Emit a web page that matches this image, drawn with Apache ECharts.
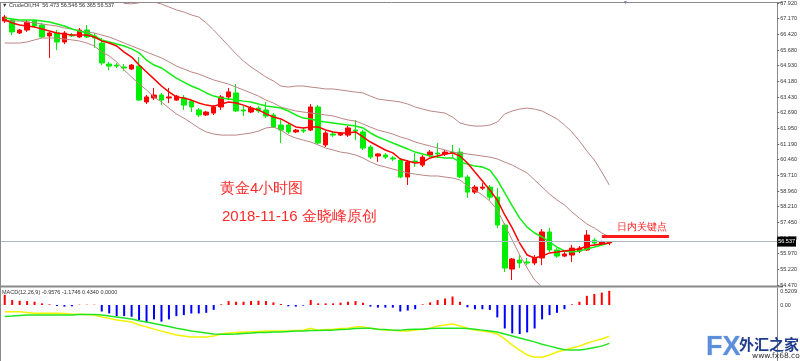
<!DOCTYPE html>
<html><head><meta charset="utf-8">
<script src="https://cdn.jsdelivr.net/npm/echarts@6/dist/echarts.min.js"></script>
<style>html,body{margin:0;padding:0;background:#fff}#c{width:800px;height:361px}</style>
</head><body><div id="c"></div>
<script>
// ---- data ----
const symbolName = 'CrudeOil,H4';
const slotCount = 104; // bar slots across the window (MT4 right shift leaves empty slots)
const categories = Array.from({length: slotCount}, (_, i) => 'B' + (i + 1));

const priceTicks = ['54.470','55.220','55.970','56.720','57.450','58.210','58.960','59.710','60.460','61.190','61.950','62.690','63.430','64.180','64.930','65.680','66.420','67.170','67.920'];
const priceMin = 54.47, priceMax = 67.92;
const macdMin = -1.716, macdMax = 0.5209;
const keyLevel = 56.78; // 日内关键点

// [open, close, low, high]
const candles = [
[67.06,67.25,66.97,67.35],[67.11,66.54,66.39,67.20],[66.49,66.63,66.44,66.68],[66.63,67.01,66.54,67.11],
[67.06,66.82,66.73,67.11],[66.87,66.30,66.25,66.97],[66.35,66.49,65.30,66.54],[66.49,66.06,65.68,66.63],
[66.06,66.49,65.96,66.58],[66.39,66.35,66.30,66.49],[66.30,66.63,66.25,66.73],[66.63,66.30,66.25,66.87],
[66.35,66.25,65.77,66.49],[66.01,65.06,64.96,66.25],[65.01,64.91,64.72,65.11],[64.96,64.91,64.82,65.06],
[64.87,64.82,64.68,65.01],[64.77,64.96,64.72,65.01],[64.91,63.29,63.25,65.34],[63.20,63.44,63.10,63.53],
[63.39,63.53,63.29,63.87],[63.53,63.29,63.05,63.63],[63.39,63.44,63.15,63.87],[63.29,63.48,63.25,63.53],
[63.39,63.05,62.82,63.53],[63.25,62.96,62.72,63.29],[62.82,62.58,62.48,62.91],[62.58,62.72,62.53,62.77],
[62.67,62.96,62.58,63.05],[62.96,63.44,62.82,63.53],[63.44,63.68,63.29,63.87],[63.63,62.77,62.72,64.06],
[62.82,62.77,62.53,63.01],[62.72,62.91,62.67,63.01],[62.91,62.77,62.67,63.01],[62.82,62.53,62.43,63.20],
[62.58,62.00,61.96,62.67],[62.10,61.86,61.24,62.34],[62.10,61.77,61.67,62.20],[61.77,61.86,61.72,61.91],
[61.86,61.81,61.72,61.96],[61.86,62.96,61.81,63.10],[62.96,61.24,61.19,63.05],[61.15,61.72,61.05,61.81],
[61.67,61.62,61.53,61.77],[61.62,61.72,61.58,61.77],[61.62,61.96,61.53,62.05],[61.86,61.81,61.38,62.34],
[61.77,61.00,60.91,61.86],[61.05,60.57,60.48,61.15],[60.62,60.72,60.34,60.76],[60.67,60.57,60.48,60.76],
[60.53,60.48,60.38,60.62],[60.43,59.62,59.57,60.53],[59.62,60.34,59.24,60.43],[60.38,60.34,60.10,60.76],
[60.19,60.57,60.10,60.67],[60.67,60.81,60.57,60.91],[60.76,60.72,60.53,61.24],[60.72,60.81,60.62,60.91],
[60.81,60.76,60.53,61.15],[60.81,59.62,59.57,61.00],[59.62,58.90,58.62,59.71],[58.90,59.14,58.81,59.24],
[59.09,59.14,59.00,59.33],[59.14,58.66,58.52,59.24],[58.66,57.33,57.19,59.09],[57.33,55.28,55.09,57.43],
[55.23,55.71,54.71,55.76],[55.66,55.52,55.28,55.90],[55.57,55.52,55.42,55.76],[55.52,55.76,55.42,55.90],
[55.76,57.00,55.42,57.14],[57.00,56.14,56.04,57.19],[56.14,55.85,55.76,56.23],[55.85,55.95,55.80,56.04],
[55.90,56.23,55.57,56.38],[56.09,56.23,55.99,56.33],[56.14,56.85,56.09,57.09],[56.61,56.47,56.38,56.71],
[56.42,56.52,56.35,56.58],[56.473,56.537,56.365,56.546]
];

const maFast = [67.11,66.97,66.87,66.82,66.77,66.68,66.58,66.49,66.44,66.39,
66.39,66.39,66.30,66.11,66.01,65.87,65.58,65.34,64.96,64.63,
64.30,63.96,63.68,63.44,63.39,63.29,63.15,63.05,63.00,63.10,
63.20,63.15,63.05,62.91,62.82,62.63,62.48,62.39,62.20,62.01,
61.96,62.01,62.01,61.86,61.77,61.72,61.72,61.77,61.53,61.29,
61.10,60.91,60.77,60.48,60.38,60.29,60.33,60.53,60.62,60.72,
60.77,60.62,60.29,59.86,59.43,59.00,58.52,57.81,57.19,56.47,
55.90,55.76,55.85,56.00,56.04,56.09,56.14,56.19,56.33,56.38,
56.42,56.47];

const maSlow = [67.20,67.16,67.11,67.11,67.11,67.06,67.01,66.92,66.82,66.68,
66.58,66.49,66.35,66.16,66.06,65.96,65.87,65.73,65.54,65.20,
64.96,64.82,64.58,64.34,64.15,63.96,63.82,63.63,63.48,63.39,
63.34,63.29,63.24,63.20,63.10,63.01,62.96,62.91,62.77,62.58,
62.43,62.39,62.29,62.24,62.20,62.15,62.10,62.05,61.96,61.72,
61.53,61.39,61.24,61.10,60.96,60.81,60.72,60.62,60.57,60.53,
60.53,60.34,60.24,60.14,60.10,59.95,59.48,58.86,58.24,57.66,
57.23,56.95,56.76,56.52,56.28,56.09,56.04,56.09,56.19,56.28,
56.38,56.47];

const bandUpper = [68.15,68.15,68.15,68.15,68.15,68.15,68.15,68.15,68.15,68.15,
68.15,68.15,68.15,68.15,68.15,68.15,67.90,67.88,67.93,68.00,
67.97,67.87,67.73,67.59,67.49,67.35,67.25,66.97,66.63,66.25,
65.87,65.49,65.15,64.87,64.63,64.39,64.20,63.96,63.91,63.96,
63.96,63.91,63.87,63.82,63.82,63.77,63.72,63.67,63.63,63.48,
63.34,63.29,63.25,63.20,63.10,62.96,62.86,62.77,62.72,62.67,
62.48,62.20,62.10,62.05,62.05,62.10,62.24,62.63,62.77,62.86,
62.91,62.86,62.77,62.58,62.39,62.10,61.77,61.34,60.86,60.43,
59.86,59.24];

const bandMiddle = [67.11,67.06,67.06,67.01,66.97,66.92,66.87,66.82,66.73,66.68,
66.58,66.54,66.49,66.39,66.30,66.16,66.01,65.87,65.73,65.58,
65.44,65.30,65.11,64.91,64.77,64.63,64.53,64.39,64.25,64.15,
64.05,63.91,63.77,63.63,63.48,63.29,63.15,62.96,62.86,62.77,
62.72,62.67,62.63,62.58,62.53,62.43,62.34,62.29,62.15,62.00,
61.86,61.77,61.67,61.53,61.43,61.29,61.19,61.10,61.00,60.91,
60.81,60.76,60.72,60.67,60.62,60.57,60.48,60.33,60.19,60.00,
59.81,59.48,59.14,58.81,58.52,58.29,57.95,57.66,57.38,57.19,
56.95,56.76];

const bandLower = [66.01,66.01,66.01,66.06,66.16,66.25,66.25,66.25,66.20,66.16,
66.11,66.01,65.87,65.58,65.39,65.11,64.72,64.39,64.06,63.77,
63.44,63.20,62.91,62.63,62.43,62.20,61.96,61.77,61.67,61.62,
61.62,61.62,61.67,61.72,61.81,61.96,62.00,61.86,61.62,61.48,
61.38,61.29,61.15,61.00,60.91,60.81,60.76,60.67,60.53,60.34,
60.19,60.10,60.00,59.91,59.81,59.76,59.71,59.67,59.67,59.62,
59.57,59.48,59.19,59.00,58.76,58.47,58.05,57.33,56.61,55.90,
55.28,54.71,54.37,53.99,53.75,53.55,53.40,53.30,53.22,53.18,
53.15,53.15];

const macdHist = [0.31,0.15,0.13,0.12,0.10,0.05,0.02,-0.03,-0.05,-0.04,
0.01,0.01,0.01,-0.20,-0.26,-0.34,-0.34,-0.36,-0.46,-0.54,
-0.44,-0.51,-0.44,-0.34,-0.31,-0.26,-0.26,-0.24,-0.15,0.02,
0.12,0.10,0.10,0.12,0.13,0.12,0.08,0.03,-0.04,-0.05,
-0.02,0.15,0.05,0.05,0.05,0.07,0.10,0.12,0.07,-0.05,
-0.08,-0.08,-0.08,-0.20,-0.17,-0.13,0.02,0.08,0.15,0.20,
0.26,0.10,-0.07,-0.13,-0.13,-0.15,-0.38,-0.72,-0.87,-0.89,
-0.84,-0.72,-0.44,-0.31,-0.24,-0.13,0.02,0.10,0.28,0.34,
0.38,0.434];

const macdLine = [-0.21,-0.21,-0.21,-0.23,-0.25,-0.25,-0.25,-0.25,-0.26,-0.28,
-0.28,-0.29,-0.31,-0.37,-0.41,-0.46,-0.49,-0.52,-0.61,-0.67,
-0.74,-0.80,-0.86,-0.92,-0.95,-0.98,-0.98,-0.98,-0.95,-0.89,
-0.86,-0.84,-0.83,-0.83,-0.81,-0.80,-0.80,-0.80,-0.80,-0.78,
-0.77,-0.71,-0.77,-0.75,-0.74,-0.72,-0.71,-0.67,-0.67,-0.71,
-0.74,-0.77,-0.77,-0.80,-0.80,-0.77,-0.74,-0.71,-0.64,-0.61,
-0.58,-0.64,-0.71,-0.77,-0.80,-0.83,-0.89,-1.04,-1.23,-1.38,
-1.53,-1.60,-1.60,-1.53,-1.44,-1.38,-1.32,-1.26,-1.17,-1.10,
-1.04,-0.9576];

const signalLine = [-0.35,-0.34,-0.32,-0.31,-0.31,-0.31,-0.31,-0.31,-0.31,-0.31,
-0.29,-0.29,-0.29,-0.31,-0.34,-0.37,-0.40,-0.43,-0.48,-0.52,
-0.57,-0.61,-0.66,-0.71,-0.75,-0.80,-0.83,-0.86,-0.89,-0.90,
-0.90,-0.89,-0.87,-0.86,-0.84,-0.84,-0.83,-0.83,-0.81,-0.80,
-0.80,-0.78,-0.78,-0.77,-0.77,-0.75,-0.74,-0.72,-0.71,-0.71,
-0.74,-0.75,-0.77,-0.77,-0.75,-0.74,-0.74,-0.72,-0.71,-0.71,
-0.71,-0.71,-0.72,-0.74,-0.77,-0.80,-0.83,-0.89,-0.95,-1.01,
-1.07,-1.13,-1.20,-1.26,-1.32,-1.37,-1.38,-1.38,-1.35,-1.30,
-1.26,-1.1746];

// ---- chart ----
const last = candles[candles.length - 1];
const lastClose = last[1];
const n = candles.length;
const headerText = '\u25BC ' + symbolName + '  ' + last[0].toFixed(3) + ' ' + last[3].toFixed(3) + ' ' + last[2].toFixed(3) + ' ' + last[1].toFixed(3);
const macdText = 'MACD(12,26,9) ' + macdLine[n-1].toFixed(4) + ' ' + signalLine[n-1].toFixed(4) + ' ' + macdHist[n-1].toFixed(4) + ' 0.0000';

const RED = '#ff0000', GREEN = '#00ee00', BAND = '#bb8585';
const smallFont = 'Liberation Sans';
const cjk = '"Noto Sans CJK SC", sans-serif';

const chart = echarts.init(document.getElementById('c'), null, {renderer: 'canvas'});
chart.setOption({
  animation: false,
  backgroundColor: '#ffffff',
  grid: [
    {left: 1, right: 17, top: 3, height: 282},
    {left: 1, right: 17, top: 288, height: 73}
  ],
  xAxis: [
    {type: 'category', gridIndex: 0, data: categories, show: false, boundaryGap: true},
    {type: 'category', gridIndex: 1, data: categories, show: false, boundaryGap: true}
  ],
  yAxis: [
    {type: 'value', gridIndex: 0, min: priceMin, max: priceMax, show: false},
    {type: 'category', gridIndex: 0, data: priceTicks, boundaryGap: false, position: 'right',
     axisLine: {show: true, lineStyle: {color: '#8a8a8a', width: 1}},
     axisTick: {show: true, length: 2, interval: 0, lineStyle: {color: '#666'}},
     axisLabel: {interval: 0, fontSize: 5.5, color: '#333', margin: 3, fontFamily: smallFont},
     splitLine: {show: false}},
    {type: 'value', gridIndex: 1, min: macdMin, max: macdMax, position: 'right',
     axisLine: {show: true, lineStyle: {color: '#8a8a8a', width: 1}},
     axisTick: {show: false}, splitLine: {show: false},
     axisLabel: {customValues: [0, macdMax], fontSize: 5.5, color: '#333', margin: 3, fontFamily: smallFont,
       formatter: v => v === 0 ? '0.00' : '{t|' + v.toFixed(4) + '}',
       rich: {t: {fontSize: 5.5, color: '#333', fontFamily: smallFont, padding: [6, 0, 0, 0]}}}}
  ],
  graphic: [
    {type: 'line', silent: true, shape: {x1: 0, y1: 2.5, x2: 783, y2: 2.5}, style: {stroke: '#8a8a8a', lineWidth: 1}},
    {type: 'line', silent: true, shape: {x1: 0.5, y1: 2, x2: 0.5, y2: 361}, style: {stroke: '#8a8a8a', lineWidth: 1}},
    {type: 'line', silent: true, shape: {x1: 0, y1: 286.5, x2: 783, y2: 286.5}, style: {stroke: '#8a8a8a', lineWidth: 2}},
    {type: 'text', silent: true, z: 100, x: 2, y: 5, style: {text: headerText, fontSize: 5.5, fill: '#333', verticalAlign: 'middle', fontFamily: smallFont}},
    {type: 'text', silent: true, z: 100, x: 623, y: 3, style: {text: '\u25BC', fontSize: 5, fill: '#6a7ea8', verticalAlign: 'middle'}},
    {type: 'text', silent: true, z: 100, x: 2, y: 292, style: {text: macdText, fontSize: 5.5, fill: '#333', verticalAlign: 'middle', fontFamily: smallFont}},
    {type: 'text', silent: true, z: 100, x: 220, y: 189, style: {text: '黄金4小时图', fontSize: 15, fill: '#ff2b2b', verticalAlign: 'middle', font: '15px ' + cjk}},
    {type: 'text', silent: true, z: 100, x: 222, y: 217, style: {text: '2018-11-16 金晓峰原创', fontSize: 15, fill: '#ff2b2b', verticalAlign: 'middle', font: '15px ' + cjk}},
    {type: 'text', silent: true, z: 100, x: 617, y: 227, style: {text: '日内关键点', fontSize: 10, fill: '#ff2020', verticalAlign: 'middle', font: '10px ' + cjk}},
    {type: 'text', silent: true, z: 100, x: 706, y: 348, style: {text: 'FX', verticalAlign: 'middle',
       font: 'bold 27px "Liberation Sans Narrow", "Liberation Sans", sans-serif', fill: '#5b8fdb', stroke: '#dfe9f7', lineWidth: 1}},
    {type: 'text', silent: true, z: 100, x: 739, y: 344, style: {text: '外汇之家', verticalAlign: 'middle', fill: '#1f3c8a', font: 'bold 15px ' + cjk}},
    {type: 'text', silent: true, z: 100, x: 752, y: 356.5, style: {text: 'www.fx68.com', verticalAlign: 'middle', fill: '#333', font: '7.5px "DejaVu Sans"'}}
  ],
  series: [
    {type: 'candlestick', xAxisIndex: 0, yAxisIndex: 0, data: candles, barWidth: 5, clip: true,
     itemStyle: {color: RED, color0: GREEN, borderColor: RED, borderColor0: GREEN, borderWidth: 1},
     markLine: {silent: true, symbol: ['none', 'none'], animation: false,
       data: [
         {yAxis: lastClose, lineStyle: {color: '#a9b7c6', width: 1, type: 'solid'},
          label: {show: true, position: 'end', distance: 0, formatter: lastClose.toFixed(3),
                  backgroundColor: '#000', color: '#fff', fontSize: 5.5, padding: [2, 1, 2, 1], fontFamily: smallFont}},
         [{coord: [80, keyLevel], lineStyle: {color: '#ff1a1a', width: 3, type: 'solid'}, label: {show: false}},
          {coord: [89, keyLevel]}]
       ]}},
    {type: 'line', xAxisIndex: 0, yAxisIndex: 0, data: bandUpper, symbol: 'none', lineStyle: {color: BAND, width: 1}},
    {type: 'line', xAxisIndex: 0, yAxisIndex: 0, data: bandMiddle, symbol: 'none', lineStyle: {color: BAND, width: 1}},
    {type: 'line', xAxisIndex: 0, yAxisIndex: 0, data: bandLower, symbol: 'none', lineStyle: {color: BAND, width: 1}},
    {type: 'line', xAxisIndex: 0, yAxisIndex: 0, data: maSlow, symbol: 'none', lineStyle: {color: '#11ee11', width: 1.5}},
    {type: 'line', xAxisIndex: 0, yAxisIndex: 0, data: maFast, symbol: 'none', lineStyle: {color: RED, width: 1.5}},
    {type: 'bar', xAxisIndex: 1, yAxisIndex: 2, data: macdHist, barWidth: 2,
     itemStyle: {color: p => p.value >= 0 ? '#ff0000' : '#0000ff'}},
    {type: 'line', xAxisIndex: 1, yAxisIndex: 2, data: macdLine, symbol: 'none', lineStyle: {color: '#f2f200', width: 1.5}},
    {type: 'line', xAxisIndex: 1, yAxisIndex: 2, data: signalLine, symbol: 'none', lineStyle: {color: '#22e522', width: 1.5}}
  ]
});
</script></body></html>
